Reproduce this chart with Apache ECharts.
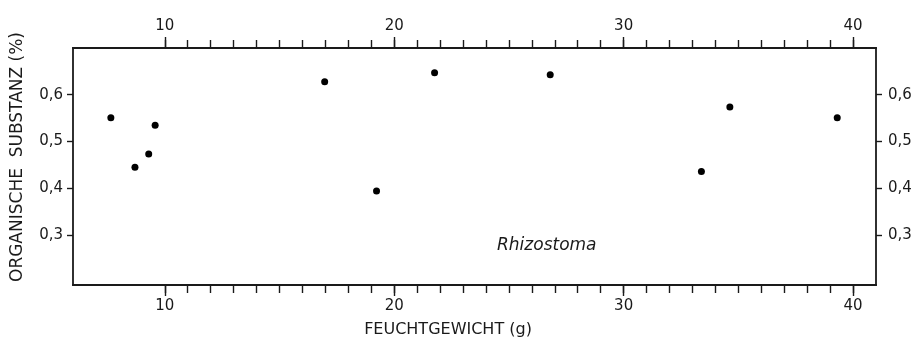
<!DOCTYPE html>
<html>
<head>
<meta charset="utf-8">
<script src="https://cdn.jsdelivr.net/npm/echarts@6/dist/echarts.min.js"></script>
<style>
html,body{margin:0;padding:0;background:#fff;}
#c{width:923px;height:341px;}
</style>
</head>
<body>
<div id="c"></div>
<script>
// Data: wet weight (g) vs organic substance (%)
const wetWeight = [7.65, 8.7, 9.3, 9.58, 16.97, 19.23, 21.76, 26.8, 33.39, 34.63, 39.31];
const organic   = [0.551, 0.445, 0.473, 0.535, 0.628, 0.394, 0.647, 0.643, 0.436, 0.574, 0.551];
const xLabelTicks = [10, 20, 30, 40];
const xMinorTicks = [];
for (let v = 10; v <= 40; v++) xMinorTicks.push(v);
const yTicks = [0.3, 0.4, 0.5, 0.6];
const xTitle = 'FEUCHTGEWICHT (g)';
const yTitle = 'ORGANISCHE  SUBSTANZ (%)';
const speciesLabel = 'Rhizostoma';

const ink = '#1a1a1a';
const font = 'DejaVu Sans';
const X_MIN = 6, X_MAX = 41, Y_MIN = 0.193, Y_MAX = 0.70;

function xAxisDef(pos, showLabel, tickVals, tickLen) {
  return {
    type: 'value', position: pos, min: X_MIN, max: X_MAX, offset: 0,
    axisLine: {show: true, onZero: false, lineStyle: {color: ink, width: 1.8}},
    axisTick: {show: true, inside: false, length: tickLen, customValues: tickVals, lineStyle: {color: ink, width: 1.4}},
    axisLabel: {show: showLabel, customValues: xLabelTicks, margin: 14, color: ink, fontFamily: font, fontSize: 15},
    splitLine: {show: false}
  };
}
function yAxisDef(pos) {
  return {
    type: 'value', position: pos, min: Y_MIN, max: Y_MAX, offset: 0,
    axisLine: {show: true, onZero: false, lineStyle: {color: ink, width: 1.8}},
    axisTick: {show: true, inside: false, length: 6, customValues: yTicks, lineStyle: {color: ink, width: 1.4}},
    axisLabel: {show: true, customValues: yTicks, margin: pos === 'left' ? 10 : 12, color: ink, fontFamily: font, fontSize: 15,
      formatter: v => v.toFixed(1).replace('.', ',')},
    splitLine: {show: false}
  };
}

const chart = echarts.init(document.getElementById('c'), null, {renderer: 'canvas'});
chart.setOption({
  animation: false,
  backgroundColor: '#fff',
  grid: {left: 73, right: 47, top: 48, bottom: 56, containLabel: false},
  xAxis: [
    xAxisDef('bottom', true, xMinorTicks, 8),
    xAxisDef('top', true, xMinorTicks, 8),
    xAxisDef('bottom', false, xLabelTicks, 11),
    xAxisDef('top', false, xLabelTicks, 11)
  ],
  yAxis: [yAxisDef('left'), yAxisDef('right')],
  series: [{
    type: 'scatter', xAxisIndex: 0, yAxisIndex: 0,
    symbol: 'circle', symbolSize: 7,
    itemStyle: {color: '#000', opacity: 1},
    data: wetWeight.map((x, i) => [x, organic[i]])
  }],
  graphic: [
    {type: 'text', x: 448, y: 330, style: {text: xTitle, fill: ink, font: '16px "DejaVu Sans"', align: 'center', verticalAlign: 'middle'}},
    {type: 'text', x: 18, y: 157, rotation: Math.PI / 2, style: {text: yTitle, fill: ink, font: '17px "DejaVu Sans"', align: 'center', verticalAlign: 'middle'}},
    {type: 'text', x: 497, y: 246, style: {text: speciesLabel, fill: ink, font: 'italic 17px "DejaVu Sans"', align: 'left', verticalAlign: 'middle'}}
  ]
});
</script>
</body>
</html>
